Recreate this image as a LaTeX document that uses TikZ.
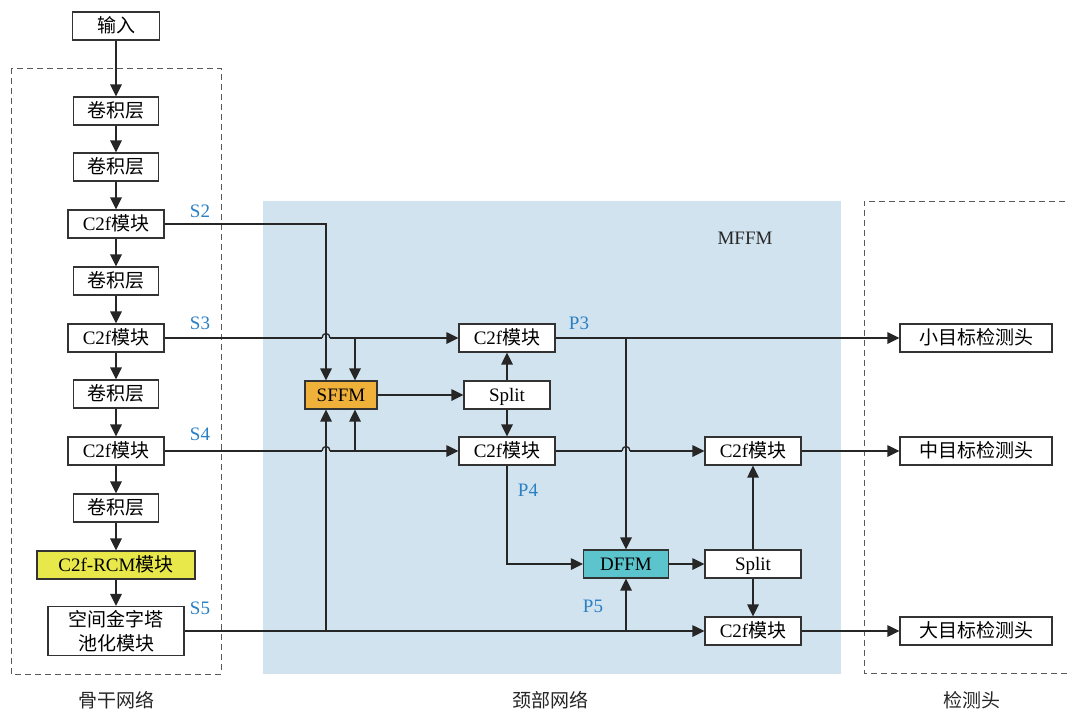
\documentclass[tikz,border=0pt]{standalone}
\usepackage{fontspec}
\setmainfont{Liberation Serif}
\newfontfamily\cjk{Noto Sans CJK SC}
\usetikzlibrary{arrows.meta,calc}
\newcommand{\zh}[1]{{\cjk #1}}
\definecolor{labblue}{HTML}{2B7FC3}
\definecolor{bgblue}{HTML}{D1E3EF}
\definecolor{sffmorange}{HTML}{F0B13A}
\definecolor{dffmteal}{HTML}{5CC4CC}
\definecolor{rcmyellow}{HTML}{E9E84A}
\begin{document}
\begin{tikzpicture}[x=1pt,y=-1pt,
  box/.style={draw=black!80, line width=1.2pt, fill=white, minimum height=28pt, inner sep=0pt, font=\fontsize{19}{24}\selectfont},
  onel/.style={box, text height=15.5pt, text depth=2.5pt},
  conn/.style={draw=black!85, line width=1.3pt},
  arr/.style={conn, -{Triangle[length=12pt,width=11.5pt]}},
  lbl/.style={text=labblue, inner sep=0pt, font=\fontsize{19}{24}\selectfont},
  captxt/.style={inner sep=0pt, text=black!85, font=\fontsize{19}{24}\selectfont}
  ,region/.style={draw=black!65, line width=1pt, dash pattern=on 6pt off 4pt}
]
\useasboundingbox (0,0) rectangle (1067,710);
% backgrounds
\fill[bgblue] (263,201) rectangle (841,674);
\draw[region] (11,68) rectangle (221,674);
\draw[region] (1075,201) -- (864,201) -- (864,673) -- (1075,673);

% backbone
\node[onel, minimum width=87pt] (in) at (116,26) {\zh{输入}};
\node[onel, minimum width=85pt] (cv1) at (116,111) {\zh{卷积层}};
\node[onel, minimum width=85pt] (cv2) at (116,167) {\zh{卷积层}};
\node[onel, minimum width=96pt] (c2) at (116,224) {C2f\zh{模块}};
\node[onel, minimum width=85pt] (cv3) at (116,281) {\zh{卷积层}};
\node[onel, minimum width=96pt] (c3) at (116,338) {C2f\zh{模块}};
\node[onel, minimum width=85pt] (cv4) at (116,394) {\zh{卷积层}};
\node[onel, minimum width=96pt] (c4) at (116,451) {C2f\zh{模块}};
\node[onel, minimum width=85pt] (cv5) at (116,508) {\zh{卷积层}};
\node[onel, fill=rcmyellow, minimum width=158pt] (rcm) at (116,565) {C2f-RCM\zh{模块}};
\node[box, minimum width=136pt, minimum height=49pt, align=center] (spp) at (116,631) {\zh{空间金字塔}\\\zh{池化模块}};

% neck
\node[onel, fill=sffmorange, minimum width=72pt] (sffm) at (341,395) {SFFM};
\node[onel, minimum width=86pt] (sp1) at (507,395) {Split};
\node[onel, minimum width=96pt] (p3) at (507,338) {C2f\zh{模块}};
\node[onel, minimum width=96pt] (p4) at (507,451) {C2f\zh{模块}};
\node[onel, fill=dffmteal, minimum width=85pt] (dffm) at (626,564) {DFFM};
\node[onel, minimum width=96pt] (sp2) at (753,564) {Split};
\node[onel, minimum width=96pt] (cm) at (753,451) {C2f\zh{模块}};
\node[onel, minimum width=96pt] (cb) at (753,631) {C2f\zh{模块}};

% heads
\node[onel, minimum width=152pt] (hs) at (976,338) {\zh{小目标检测头}};
\node[onel, minimum width=152pt] (hm) at (976,451) {\zh{中目标检测头}};
\node[onel, minimum width=152pt] (hl) at (976,631) {\zh{大目标检测头}};

% labels
\node[lbl] (s2) at (200,211) {S2};
\node[lbl] (s3) at (200,323) {S3};
\node[lbl] (s4) at (200,434) {S4};
\node[lbl] (s5) at (200,608) {S5};
\node[lbl] (lp3) at (579,323) {P3};
\node[lbl] (lp4) at (528,490) {P4};
\node[lbl] (lp5) at (593,606) {P5};
\node[captxt] (mffm) at (745,238) {MFFM};
\node[captxt] (t1) at (116,700) {\zh{骨干网络}};
\node[captxt] (t2) at (550,700) {\zh{颈部网络}};
\node[captxt] (t3) at (972,700) {\zh{检测头}};

% helper coordinates
\coordinate (xA) at ([xshift=-15pt]sffm.north);
\coordinate (xB) at ([xshift=14pt]sffm.north);
\coordinate (xAs) at ([xshift=-15pt]sffm.south);
\coordinate (xBs) at ([xshift=14pt]sffm.south);
\coordinate (h1) at (c3.east -| xA);
\coordinate (h2) at (c4.east -| xA);
\coordinate (h3) at (p4.east -| dffm.north);
\foreach \h in {h1,h2,h3}{
  \coordinate (\h l) at ($(\h)+(-4,0)$);
  \coordinate (\h r) at ($(\h)+(4,0)$);
}

% backbone chain
\foreach \a/\b in {in/cv1,cv1/cv2,cv2/c2,c2/cv3,cv3/c3,c3/cv4,cv4/c4,c4/cv5,cv5/rcm,rcm/spp}
  \draw[arr] (\a) -- (\b);

% hops
\foreach \h in {h1,h2,h3}
  \draw[conn] (\h l) .. controls ($(\h l)+(0,-6)$) and ($(\h r)+(0,-6)$) .. (\h r);

% S connections
\draw[arr] (c2.east) -| (xA);
\draw[conn] (c3.east) -- (h1l);
\draw[arr] (h1r) -- (p3.west);
\draw[arr] (c3.east -| xB) -- (xB);
\draw[conn] (c4.east) -- (h2l);
\draw[arr] (h2r) -- (p4.west);
\draw[arr] (c4.east -| xBs) -- (xBs);
\draw[arr] (spp.east) -- (cb.west);
\draw[arr] (spp.east -| xAs) -- (xAs);
\draw[arr] (spp.east -| dffm.south) -- (dffm.south);

% neck
\draw[arr] (sffm) -- (sp1);
\draw[arr] (sp1.north) -- (p3.south);
\draw[arr] (sp1.south) -- (p4.north);
\draw[arr] (p3.east) -- (hs.west);
\draw[arr] (p3.east -| dffm.north) -- (dffm.north);
\draw[conn] (p4.east) -- (h3l);
\draw[arr] (h3r) -- (cm.west);
\draw[arr] (p4.south) |- (dffm.west);
\draw[arr] (dffm) -- (sp2);
\draw[arr] (sp2) -- (cm);
\draw[arr] (sp2) -- (cb);
\draw[arr] (cm) -- (hm);
\draw[arr] (cb) -- (hl);
\end{tikzpicture}
\end{document}
